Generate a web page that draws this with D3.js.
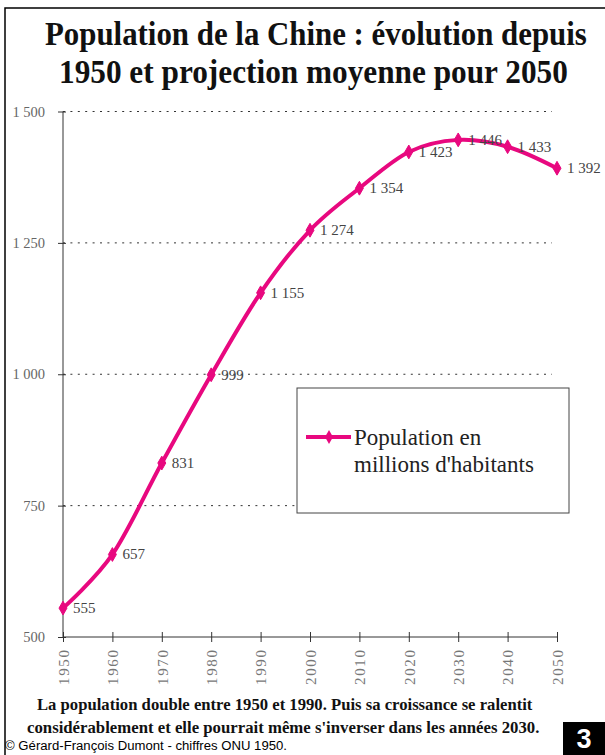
<!DOCTYPE html>
<html>
<head>
<meta charset="utf-8">
<script src="https://cdn.jsdelivr.net/npm/d3@7"></script>
<style>
  html, body { margin: 0; padding: 0; background: #fff; }
  svg { display: block; }
</style>
</head>
<body>
<svg id="chart" width="605" height="755"></svg>
<script>
// Data
const years = [1950, 1960, 1970, 1980, 1990, 2000, 2010, 2020, 2030, 2040, 2050];
const population = [555, 657, 831, 999, 1155, 1274, 1354, 1423, 1446, 1433, 1392];
const yTicks = [500, 750, 1000, 1250, 1500];
const titleLines = [
  'Population de la Chine : évolution depuis',
  '1950 et projection moyenne pour 2050'
];
const legendLines = ['Population en', "millions d'habitants"];
const captionLines = [
  'La population double entre 1950 et 1990. Puis sa croissance se ralentit',
  "considérablement et elle pourrait même s'inverser dans les années 2030."
];
const credit = '© Gérard-François Dumont - chiffres ONU 1950.';

const pink = '#e8087f';
const serif = '"Liberation Serif", "Times New Roman", serif';
const sans = '"Liberation Sans", Arial, sans-serif';

const svg = d3.select('#chart');

// Thousands with a space, like the French original
const fmt = v => {
  const s = String(v);
  return s.length > 3 ? s.slice(0, s.length - 3) + ' ' + s.slice(-3) : s;
};

/**
 * Squeeze a text horizontally so it spans [x0, x1], keeping its baseline.
 * The original image is condensed, so the glyphs get a narrower scale.
 */
const fitText = (sel, boxes, sy) => {
  sel.each(function(d, i) {
    const b = boxes[i];
    const w = this.getComputedTextLength();
    d3.select(this)
      .attr('transform', `translate(${b.x0},${b.base}) scale(${(b.x1 - b.x0) / w},${sy})`);
  });
};

const x = d3.scaleLinear().domain([1950, 2050]).range([63, 557]);
const y = d3.scaleLinear().domain([500, 1500]).range([637, 111.5]);

// Outer frame (top and left edges visible)
svg.append('path')
  .attr('d', 'M5,755 V8 H605')
  .attr('fill', 'none')
  .attr('stroke', '#000')
  .attr('stroke-width', 1.5);

// Title
const titleBoxes = [{ x0: 45, x1: 587, base: 45 }, { x0: 59, x1: 568, base: 83 }];
svg.append('g')
  .selectAll('text')
  .data(titleLines)
  .join('text')
  .style('font-family', serif)
  .style('font-weight', 'bold')
  .style('font-size', '30px')
  .attr('fill', '#111')
  .text(d => d)
  .call(fitText, titleBoxes, 1.12);

// Dotted grid lines
svg.append('g')
  .selectAll('line')
  .data(yTicks.filter(d => d > 500))
  .join('line')
  .attr('x1', x(1950))
  .attr('x2', 552)
  .attr('y1', d => y(d))
  .attr('y2', d => y(d))
  .attr('stroke', '#333')
  .attr('stroke-width', 1)
  .attr('stroke-dasharray', '2,5.4');

// Y axis
const yAxis = svg.append('g')
  .attr('transform', `translate(${x(1950)},0)`)
  .call(d3.axisLeft(y).tickValues(yTicks).tickFormat(fmt).tickSize(5).tickPadding(13));
yAxis.select('.domain').attr('stroke', '#333').attr('d', `M0,${y(500)}V${y(1500)}`);
yAxis.selectAll('.tick line').attr('stroke', '#333').attr('x2', 3).attr('x1', -5);
yAxis.selectAll('.tick text')
  .style('font-family', serif)
  .style('font-size', '14.5px')
  .attr('fill', '#666');

// X axis
const xAxis = svg.append('g')
  .attr('transform', `translate(0,${y(500)})`)
  .call(d3.axisBottom(x).tickValues(years).tickFormat(d3.format('d')).tickSize(5));
xAxis.select('.domain').attr('stroke', '#333').attr('d', `M${x(1950)},0H${x(2050)}`);
xAxis.selectAll('.tick line').attr('stroke', '#333').attr('y1', -5);
xAxis.selectAll('.tick text')
  .attr('transform', 'translate(0,13) rotate(-90)')
  .attr('x', 0)
  .attr('y', 0)
  .attr('dy', '0.35em')
  .attr('text-anchor', 'end')
  .attr('textLength', 35)
  .attr('lengthAdjust', 'spacing')
  .style('font-family', serif)
  .style('font-size', '15px')
  .attr('fill', '#777');

// Smoothed population line
const points = years.map((yr, i) => ({ year: yr, value: population[i] }));

svg.append('path')
  .datum(points)
  .attr('fill', 'none')
  .attr('stroke', pink)
  .attr('stroke-width', 4)
  .attr('stroke-linejoin', 'round')
  .attr('d', d3.line()
    .x(d => x(d.year))
    .y(d => y(d.value))
    .curve(d3.curveCardinal.tension(0)));

const marker = d3.symbol().type(d3.symbolDiamond).size(55);

svg.append('g')
  .selectAll('path')
  .data(points)
  .join('path')
  .attr('transform', d => `translate(${x(d.year)},${y(d.value)})`)
  .attr('d', marker)
  .attr('fill', pink)
  .attr('stroke', pink)
  .attr('stroke-width', 1);

// Value labels
svg.append('g')
  .selectAll('text')
  .data(points)
  .join('text')
  .attr('x', d => x(d.year) + 10)
  .attr('y', d => y(d.value) + 5)
  .style('font-family', serif)
  .style('font-size', '15px')
  .attr('fill', '#444')
  .text(d => fmt(d.value));

// Legend
const legend = svg.append('g').attr('transform', 'translate(297,388)');
legend.append('rect')
  .attr('width', 272)
  .attr('height', 125)
  .attr('fill', '#fff')
  .attr('stroke', '#444')
  .attr('stroke-width', 1);
legend.append('line')
  .attr('x1', 9)
  .attr('x2', 54)
  .attr('y1', 49)
  .attr('y2', 49)
  .attr('stroke', pink)
  .attr('stroke-width', 4);
legend.append('path')
  .attr('transform', 'translate(32,49)')
  .attr('d', marker)
  .attr('fill', pink);
legend.selectAll('text')
  .data(legendLines)
  .join('text')
  .attr('x', 57)
  .attr('y', (d, i) => 57 + i * 27)
  .style('font-family', serif)
  .style('font-size', '23px')
  .attr('fill', '#222')
  .text(d => d);

// Caption below the chart
const captionBoxes = [{ x0: 37, x1: 533, base: 710 }, { x0: 27, x1: 540, base: 733 }];
svg.append('g')
  .selectAll('text')
  .data(captionLines)
  .join('text')
  .style('font-family', serif)
  .style('font-weight', 'bold')
  .style('font-size', '16px')
  .attr('fill', '#111')
  .text(d => d)
  .call(fitText, captionBoxes, 1.05);

svg.append('text')
  .attr('x', 5)
  .attr('y', 750)
  .attr('textLength', 282)
  .attr('lengthAdjust', 'spacingAndGlyphs')
  .style('font-family', sans)
  .style('font-size', '12.5px')
  .attr('fill', '#000')
  .text(credit);

// Page number badge
svg.append('rect')
  .attr('x', 563)
  .attr('y', 722)
  .attr('width', 42)
  .attr('height', 33)
  .attr('fill', '#000');
svg.append('text')
  .attr('x', 584)
  .attr('y', 748)
  .attr('text-anchor', 'middle')
  .style('font-family', sans)
  .style('font-weight', 'bold')
  .style('font-size', '27px')
  .attr('fill', '#fff')
  .text('3');
</script>
</body>
</html>
